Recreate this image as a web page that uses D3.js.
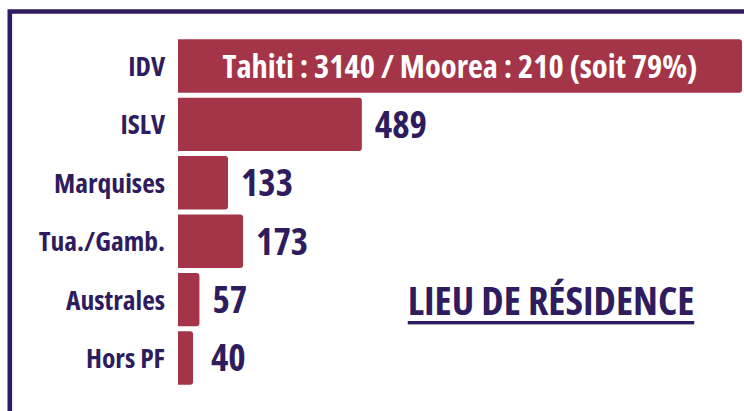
<!DOCTYPE html>
<html><head><meta charset="utf-8">
<script src="https://cdn.jsdelivr.net/npm/d3@7"></script>
<style>
html,body{margin:0;padding:0;background:#fff;}
svg{display:block;}
text{font-family:"Open Sans",sans-serif;font-weight:700;font-stretch:75%;}
</style></head>
<body>
<svg id="c" width="744" height="411"></svg>
<script>
const categories = ["IDV","ISLV","Marquises","Tua./Gamb.","Australes","Hors PF"];
const values = [3350, 489, 133, 173, 57, 40];
const valueLabels = ["Tahiti : 3140 / Moorea : 210 (soit 79%)","489","133","173","57","40"];
const title = "LIEU DE RÉSIDENCE";

const W = 744, H = 411;
const dark = "#2f1c5e", barColor = "#a43447";
const svg = d3.select("#c");

// frame
svg.append("path").attr("d", `M9.8,${H+5} L9.8,11.5 L${W+5},11.5`)
  .attr("fill","none").attr("stroke",dark).attr("stroke-width",4.6);

const x = d3.scaleLinear().domain([0,1500]).range([178,742]).clamp(true);
const y = d3.scaleBand().domain(categories).range([36.8,387.2]).paddingInner(0.086).paddingOuter(0.043);

const r = 3;
function barPath(d,i){
  const x0 = x(0), x1 = x(values[i]), y0 = y(d), h = y.bandwidth();
  const rr = Math.min(r,(x1-x0)/2);
  return `M${x0},${y0} L${x1-rr},${y0} Q${x1},${y0} ${x1},${y0+rr} L${x1},${y0+h-rr} Q${x1},${y0+h} ${x1-rr},${y0+h} L${x0},${y0+h} Z`;
}
svg.append("g").selectAll("path").data(categories).join("path")
  .attr("d",barPath).attr("fill",barColor);

// category labels
svg.append("g").selectAll("text").data(categories).join("text")
  .attr("x",165).attr("y",d=>y(d)+y.bandwidth()/2).attr("dy","0.36em")
  .attr("text-anchor","end").attr("fill",dark).attr("font-size",27.5).text(d=>d);

// value labels
svg.append("g").selectAll("text").data(categories).join("text")
  .attr("x",(d,i)=> values[i] > 1500 ? (x(0)+x(values[i]))/2 : Math.max(x(values[i])+13, 211))
  .attr("y",d=>y(d)+y.bandwidth()/2).attr("dy","0.36em")
  .attr("text-anchor",(d,i)=> values[i] > 1500 ? "middle" : "start")
  .attr("fill",(d,i)=> values[i] > 1500 ? "#fff" : dark)
  .attr("font-size",(d,i)=> values[i] > 1500 ? 32.5 : 37)
  .text((d,i)=>valueLabels[i]);

// title
const t = svg.append("text").attr("x",551).attr("y",315).attr("text-anchor","middle")
  .attr("fill",dark).attr("font-size",40).text(title);
const bb = t.node().getBBox();
svg.append("rect").attr("x",bb.x).attr("y",321).attr("width",bb.width).attr("height",3.4).attr("fill",dark);
</script>
</body></html>
